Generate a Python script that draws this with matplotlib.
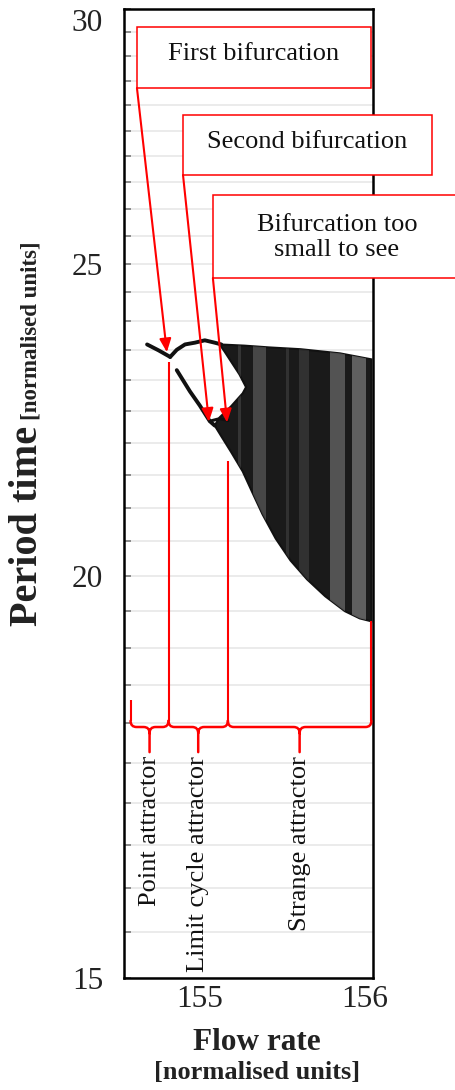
import numpy as np
import matplotlib.pyplot as plt
import matplotlib.transforms as mtransforms
from matplotlib.patches import Rectangle, PathPatch, Polygon
from matplotlib.path import Path
from matplotlib.ticker import FixedLocator, FixedFormatter, NullFormatter

plt.rcParams['font.family'] = ['Liberation Serif', 'DejaVu Serif']

# values (flow rate, period time)
point_flow = [154.68, 154.75, 154.82]
point_period = [23.60, 23.50, 23.39]

upper_flow = [154.82, 154.86, 154.91, 154.97, 155.03, 155.09, 155.13]
upper_period = [23.39, 23.51, 23.60, 23.63, 23.67, 23.63, 23.60]

lower_flow = [154.86, 154.94, 155.00, 155.06, 155.09]
lower_period = [23.17, 22.82, 22.59, 22.34, 22.27]

second_flow = [155.06, 155.12, 155.17]
second_period = [22.34, 22.38, 22.35]

chaos_top_flow = [155.12, 155.27, 155.42, 155.61, 155.85, 156.04]
chaos_top_period = [23.60, 23.58, 23.55, 23.52, 23.45, 23.35]
chaos_bottom_flow = [156.04, 155.97, 155.88, 155.76, 155.65, 155.55, 155.46,
                     155.38, 155.32, 155.26, 155.19, 155.13, 155.09]
chaos_bottom_period = [19.36, 19.40, 19.50, 19.71, 19.95, 20.22, 20.54,
                       20.90, 21.22, 21.55, 21.85, 22.10, 22.27]
chaos_left_flow = [155.12, 155.19, 155.26, 155.28, 155.24, 155.19, 155.15]
chaos_left_period = [22.40, 22.58, 22.79, 22.89, 23.10, 23.31, 23.48]

# lighter speckled columns inside the chaotic cloud
speckle_lo = [155.23, 155.32, 155.52, 155.60, 155.79, 155.92]
speckle_hi = [155.25, 155.40, 155.54, 155.66, 155.88, 156.01]
speckle_density = [0.12, 0.20, 0.10, 0.10, 0.25, 0.30]

# bifurcation points and their notes
bif_flow = [154.80, 155.055, 155.165]
bif_period = [23.47, 22.33, 22.32]
bif_notes = ['First bifurcation', 'Second bifurcation', 'Bifurcation too\nsmall to see']

# regime boundaries and names
regime_flow = [154.58, 154.81, 155.17, 156.04]
regime_top = [18.30, 23.31, 21.71, 19.36]
regime_names = ['Point attractor', 'Limit cycle attractor', 'Strange attractor']

x_ticks = [155, 156]
y_ticks = [15, 20, 25, 30]

W, H = 456, 1090
fig = plt.figure(figsize=(W / 100, H / 100), dpi=100)
ax = fig.add_axes([124 / W, 1 - 978 / H, 249 / W, 969 / H])

ax.set_yscale('log')
ax.set_xlim(154.54, 156.05)
ax.set_ylim(15, 30)

ax.yaxis.set_major_locator(FixedLocator(y_ticks))
ax.yaxis.set_major_formatter(FixedFormatter([str(v) for v in y_ticks]))
ax.yaxis.set_minor_locator(FixedLocator(np.arange(15, 30.01, 0.5)))
ax.yaxis.set_minor_formatter(NullFormatter())
ax.set_xticks(x_ticks)
ax.set_xticklabels([str(v) for v in x_ticks])

ax.yaxis.grid(True, which='both', color='#e8e8e8', lw=1.2)
ax.set_axisbelow(True)
ax.tick_params(axis='y', which='both', direction='in', length=5, width=1.4,
               color='#8a8a8a', pad=15, labelsize=22.5, labelcolor='#222222')
ax.tick_params(axis='x', length=0, pad=5, labelsize=22.5, labelcolor='#222222')
for s in ax.spines.values():
    s.set_linewidth(1.8)
    s.set_color('black')

# nudge the top label down like in the original
top_lab = ax.yaxis.get_major_ticks()[-1].label1
top_lab.set_transform(top_lab.get_transform() +
                      mtransforms.ScaledTranslation(0, -11 / 100, fig.dpi_scale_trans))

# chaotic cloud
cx = chaos_top_flow + chaos_bottom_flow + chaos_left_flow
cy = chaos_top_period + chaos_bottom_period + chaos_left_period
cloud = Polygon(np.column_stack([cx, cy]), closed=True, facecolor='#1a1a1a',
                edgecolor='#111111', lw=1.5, zorder=2)
ax.add_patch(cloud)
for lo, hi, d in zip(speckle_lo, speckle_hi, speckle_density):
    band = ax.axvspan(lo, hi, color='white', alpha=d, lw=0, zorder=2.1)
    band.set_clip_path(cloud)

ax.plot(point_flow, point_period, color='#111111', lw=2.8, solid_capstyle='round', zorder=3)
ax.plot(upper_flow, upper_period, color='#111111', lw=2.8, solid_capstyle='round', zorder=3)
ax.plot(lower_flow, lower_period, color='#111111', lw=2.8, solid_capstyle='round', zorder=3)
ax.plot(second_flow, second_period, color='#111111', lw=2.2, solid_capstyle='round', zorder=3)

# note boxes with arrows
boxes = [(0.052, 0.9185, 0.992, 0.9814), (0.237, 0.8287, 1.237, 0.8906),
         (0.357, 0.7224, 1.36, 0.8080)]
note_xy = [(0.522, 0.9536), (0.735, 0.8628), (0.855, 0.7640)]
for (x0, y0, x1, y1), (tx, ty), bx, by, note in zip(boxes, note_xy, bif_flow, bif_period, bif_notes):
    ax.add_patch(Rectangle((x0, y0), x1 - x0, y1 - y0, transform=ax.transAxes,
                           facecolor='white', edgecolor='red', lw=1.1,
                           clip_on=False, zorder=5))
    ax.text(tx, ty, note, transform=ax.transAxes, ha='center', va='center',
            fontsize=19, color='#111111', linespacing=1.2, zorder=6)
    ax.annotate('', xy=(bx, by), xycoords='data', xytext=(x0, y0),
                textcoords='axes fraction',
                arrowprops=dict(arrowstyle='-|>,head_length=0.8,head_width=0.35',
                                color='red', lw=1.5, shrinkA=0, shrinkB=0),
                zorder=6, annotation_clip=False)

# regime braces
y_j, y_h, y_c, y_tip, y_txt = 18.03, 17.95, 17.87, 17.63, 17.58
r = 0.036
ax.vlines(regime_flow, y_j, regime_top, color='red', lw=1.5, zorder=4)
for a, b, name in zip(regime_flow[:-1], regime_flow[1:], regime_names):
    m = (a + b) / 2
    verts = [(a, y_j), (a, y_h), (a + r, y_h), (m - r, y_h), (m, y_h), (m, y_c), (m, y_tip),
             (m, y_c), (m, y_h), (m + r, y_h), (b - r, y_h), (b, y_h), (b, y_j)]
    codes = [Path.MOVETO, Path.CURVE3, Path.CURVE3, Path.LINETO, Path.CURVE3, Path.CURVE3,
             Path.LINETO, Path.MOVETO, Path.CURVE3, Path.CURVE3, Path.LINETO,
             Path.CURVE3, Path.CURVE3]
    ax.add_patch(PathPatch(Path(verts, codes), fill=False, edgecolor='red', lw=1.8,
                           capstyle='round', zorder=4))
    ax.text(m, y_txt, name, rotation=90, rotation_mode='anchor', ha='right',
            va='center', fontsize=19, color='#111111', zorder=6)

# axis titles
fig.text(257 / W, 1 - 1043 / H, 'Flow rate', ha='center', va='center',
         fontsize=22.5, fontweight='bold', color='#222222')
fig.text(257 / W, 1 - 1073 / H, '[normalised units]', ha='center', va='center',
         fontsize=19, fontweight='bold', color='#222222')

t1 = fig.text(37 / W, 1 - 626 / H, 'Period time', rotation=90, rotation_mode='anchor',
              ha='left', va='baseline', fontsize=29, fontweight='bold', color='#222222')
fig.canvas.draw()
bb = t1.get_window_extent(fig.canvas.get_renderer())
fig.text(37 / W, (bb.y1 + 6) / fig.bbox.height, '[normalised units]', rotation=90,
         rotation_mode='anchor', ha='left', va='baseline', fontsize=16.5,
         fontweight='bold', color='#222222')

fig.savefig('out.png', dpi=100)
